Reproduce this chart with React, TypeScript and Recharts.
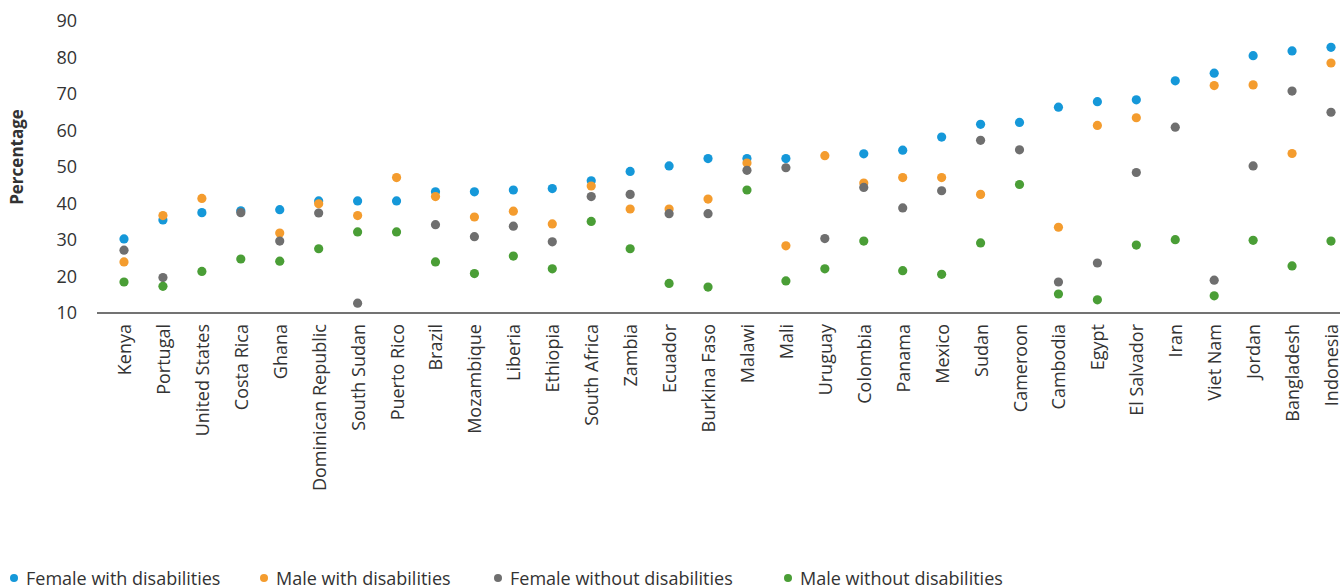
import React from "react";
import { ComposedChart, Line, XAxis, YAxis, Legend } from "recharts";

const countries = ["Kenya","Portugal","United States","Costa Rica","Ghana","Dominican Republic","South Sudan","Puerto Rico","Brazil","Mozambique","Liberia","Ethiopia","South Africa","Zambia","Ecuador","Burkina Faso","Malawi","Mali","Uruguay","Colombia","Panama","Mexico","Sudan","Cameroon","Cambodia","Egypt","El Salvador","Iran","Viet Nam","Jordan","Bangladesh","Indonesia"];

const femaleWith = [30.3,35.5,37.5,38.0,38.3,40.7,40.7,40.7,43.2,43.2,43.7,44.1,46.2,48.8,50.3,52.3,52.3,52.3,null,53.6,54.6,58.2,61.7,62.2,66.4,67.9,68.4,73.6,75.7,80.5,81.8,82.8];
const maleWith = [24.0,36.7,41.4,null,31.9,39.9,36.7,47.1,41.9,36.3,37.9,34.4,44.8,38.5,38.5,41.2,51.1,28.4,53.1,45.6,47.1,47.1,42.5,null,33.5,61.4,63.5,null,72.3,72.5,53.7,78.5];
const femaleWithout = [27.2,19.7,null,37.5,29.7,37.4,12.7,null,34.2,30.9,33.8,29.5,41.9,42.5,37.2,37.2,49.1,49.8,30.4,44.4,38.8,43.5,57.3,54.7,18.5,23.7,48.5,60.9,19.0,50.3,70.8,65.0];
const maleWithout = [18.5,17.3,21.4,24.8,24.2,27.6,32.2,32.2,24.0,20.8,25.6,22.1,35.1,27.6,18.1,17.1,43.7,18.8,22.1,29.7,21.6,20.6,29.2,45.2,15.2,13.6,28.6,30.1,14.7,29.9,22.9,29.7];

const yTicks = [10,20,30,40,50,60,70,80,90];

const series = [
  { key: "femaleWith", name: "Female with disabilities", color: "#1598d9" },
  { key: "maleWith", name: "Male with disabilities", color: "#f49c2e" },
  { key: "femaleWithout", name: "Female without disabilities", color: "#6f6f6f" },
  { key: "maleWithout", name: "Male without disabilities", color: "#4a9e36" },
];

const data = countries.map((c, i) => ({
  country: c,
  femaleWith: femaleWith[i],
  maleWith: maleWith[i],
  femaleWithout: femaleWithout[i],
  maleWithout: maleWithout[i],
}));

const FONT = "'Open Sans', sans-serif";

const XTick = (props: any) => {
  const { x, y, payload } = props;
  const ty = y + 3;
  return (
    <text
      x={x}
      y={ty}
      transform={`rotate(-90, ${x}, ${ty})`}
      textAnchor="end"
      dominantBaseline="central"
      fontSize={18}
      fontFamily={FONT}
      fill="#333"
    >
      {payload.value}
    </text>
  );
};

const makeDot = (color: string) => (props: any) => {
  const { cx, cy, index } = props;
  if (cx == null || cy == null || isNaN(cx) || isNaN(cy)) return <g key={index} />;
  return <circle key={index} cx={cx} cy={cy} r={4.6} fill={color} stroke="none" />;
};

const legendLefts = [10, 260, 494, 784];

const LegendContent = () => (
  <div style={{ position: "relative", height: 40, fontFamily: FONT, fontSize: 18, color: "#333" }}>
    {series.map((s, i) => (
      <div key={s.key} style={{ position: "absolute", left: legendLefts[i], top: 6, display: "flex", alignItems: "center", whiteSpace: "nowrap" }}>
        <span style={{ width: 8, height: 8, borderRadius: 4, background: s.color, marginRight: 8, display: "inline-block" }} />
        <span>{s.name}</span>
      </div>
    ))}
  </div>
);

const YLabel = (props: any) => {
  const { viewBox } = props;
  const x = viewBox.x + 16;
  const y = viewBox.y + viewBox.height / 2 - 10;
  return (
    <text
      x={x}
      y={y}
      transform={`rotate(-90, ${x}, ${y})`}
      textAnchor="middle"
      dominantBaseline="central"
      fontSize={17}
      fontWeight="bold"
      fontFamily={FONT}
      fill="#333"
    >
      Percentage
    </text>
  );
};

export default function App() {
  return (
    <div style={{ position: "absolute", left: 0, top: 0, width: 1340, height: 585, overflow: "hidden", background: "#fff" }}>
      <ComposedChart
        width={1340}
        height={600}
        data={data}
        margin={{ top: 21, right: 0, left: 0, bottom: 0 }}
      >
        <XAxis
          dataKey="country"
          type="category"
          scale="point"
          padding={{ left: 27, right: 9 }}
          interval={0}
          height={247}
          tick={<XTick />}
          tickLine={false}
          axisLine={{ stroke: "#444", strokeWidth: 1.5 }}
        />
        <YAxis
          type="number"
          domain={[10, 90]}
          ticks={yTicks}
          width={97}
          axisLine={false}
          tickLine={false}
          tickMargin={14}
          tick={{ fontSize: 18, fontFamily: FONT, fill: "#333" }}
          label={<YLabel />}
        />
        <Legend
          verticalAlign="bottom"
          align="left"
          height={40}
          content={<LegendContent />}
        />
        {series.map((s) => (
          <Line
            key={s.key}
            dataKey={s.key}
            name={s.name}
            stroke="none"
            fill="none"
            dot={makeDot(s.color)}
            activeDot={false}
            isAnimationActive={false}
            connectNulls={false}
          />
        ))}
      </ComposedChart>
    </div>
  );
}
